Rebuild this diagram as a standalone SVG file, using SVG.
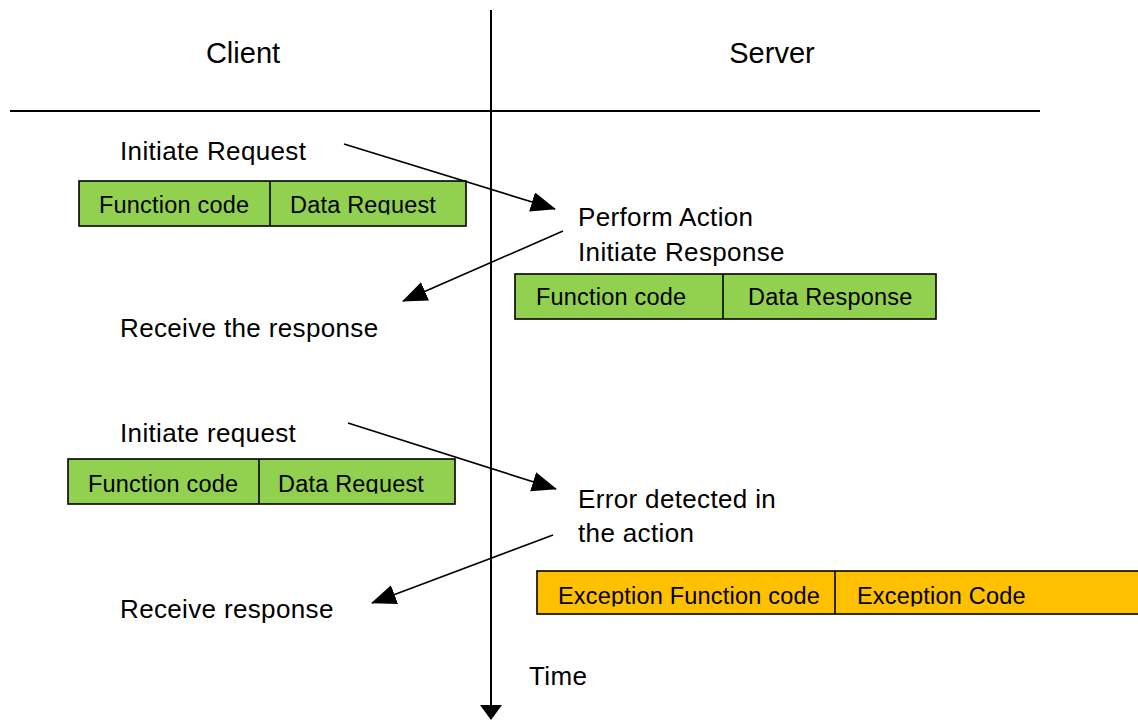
<svg xmlns="http://www.w3.org/2000/svg" width="1138" height="723" viewBox="0 0 1138 723">
<style>
.lbl{font-family:"Liberation Sans",Arial,sans-serif;font-size:26px;letter-spacing:0.35px;fill:#000}
.hdr{font-family:"Liberation Sans",Arial,sans-serif;font-size:29px;fill:#000}
.bt{font-family:"Liberation Sans",Arial,sans-serif;font-size:23.5px;letter-spacing:0.2px;fill:#000}
.g{fill:#92D050;stroke:#000;stroke-width:1.6}
.o{fill:#FFC000;stroke:#000;stroke-width:1.6}
.dv{stroke:#000;stroke-width:1.6}
.ax{stroke:#000;stroke-width:2;fill:none}
.ar{stroke:#000;stroke-width:1.7;fill:none;marker-end:url(#ah)}
</style>
<defs>
<marker id="ah" markerWidth="26" markerHeight="22" refX="24" refY="10" orient="auto" markerUnits="userSpaceOnUse">
<path d="M0,0 L25,10 L0,20 Z" fill="#000"/>
</marker>
<clipPath id="c1"><rect x="0" y="0" width="1138" height="214.5"/></clipPath>
<clipPath id="c3"><rect x="0" y="0" width="1138" height="493.5"/></clipPath>
<clipPath id="c4"><rect x="0" y="0" width="1138" height="606.5"/></clipPath>
</defs>
<rect width="1138" height="723" fill="#fff"/>
<g id="axes">
<line class="ax" x1="10" y1="111" x2="1040" y2="111"/>
<line class="ax" x1="491" y1="10" x2="491" y2="708"/>
<path d="M480,705 L502,705 L491,720 Z" fill="#000"/>
</g>
<g id="headers">
<text class="hdr" x="243" y="63" text-anchor="middle">Client</text>
<text class="hdr" x="772" y="63" text-anchor="middle">Server</text>
</g>
<g id="client-labels">
<text class="lbl" x="120" y="160">Initiate Request</text>
<text class="lbl" x="120" y="337">Receive the response</text>
<text class="lbl" x="120" y="442">Initiate request</text>
<text class="lbl" x="120" y="618">Receive response</text>
</g>
<g id="server-labels">
<text class="lbl" x="578" y="226">Perform Action</text>
<text class="lbl" x="578" y="261">Initiate Response</text>
<text class="lbl" x="578" y="508">Error detected in</text>
<text class="lbl" x="578" y="542">the action</text>
<text class="lbl" x="529" y="685">Time</text>
</g>
<g id="box-request-1">
<rect class="g" x="79" y="181" width="387" height="45"/>
<line class="dv" x1="270" y1="181" x2="270" y2="226"/>
<g clip-path="url(#c1)">
<text class="bt" x="99" y="213">Function code</text>
<text class="bt" x="290" y="213">Data Request</text>
</g>
</g>
<g id="box-response">
<rect class="g" x="515" y="274" width="421" height="45"/>
<line class="dv" x1="723" y1="274" x2="723" y2="319"/>
<text class="bt" x="536" y="305">Function code</text>
<text class="bt" x="748" y="305">Data Response</text>
</g>
<g id="box-request-2">
<rect class="g" x="68" y="459" width="387" height="45"/>
<line class="dv" x1="259" y1="459" x2="259" y2="504"/>
<g clip-path="url(#c3)">
<text class="bt" x="88" y="492">Function code</text>
<text class="bt" x="278" y="492">Data Request</text>
</g>
</g>
<g id="box-exception">
<rect class="o" x="537" y="571" width="620" height="43"/>
<line class="dv" x1="835" y1="571" x2="835" y2="614"/>
<g clip-path="url(#c4)">
<text class="bt" x="558" y="604">Exception Function code</text>
<text class="bt" x="857" y="604">Exception Code</text>
</g>
</g>
<g id="connectors">
<line class="ar" x1="344" y1="144" x2="555" y2="209"/>
<line class="ar" x1="563" y1="231" x2="403" y2="301"/>
<line class="ar" x1="348" y1="423" x2="556" y2="489"/>
<line class="ar" x1="553" y1="535" x2="372" y2="603"/>
</g>
</svg>
